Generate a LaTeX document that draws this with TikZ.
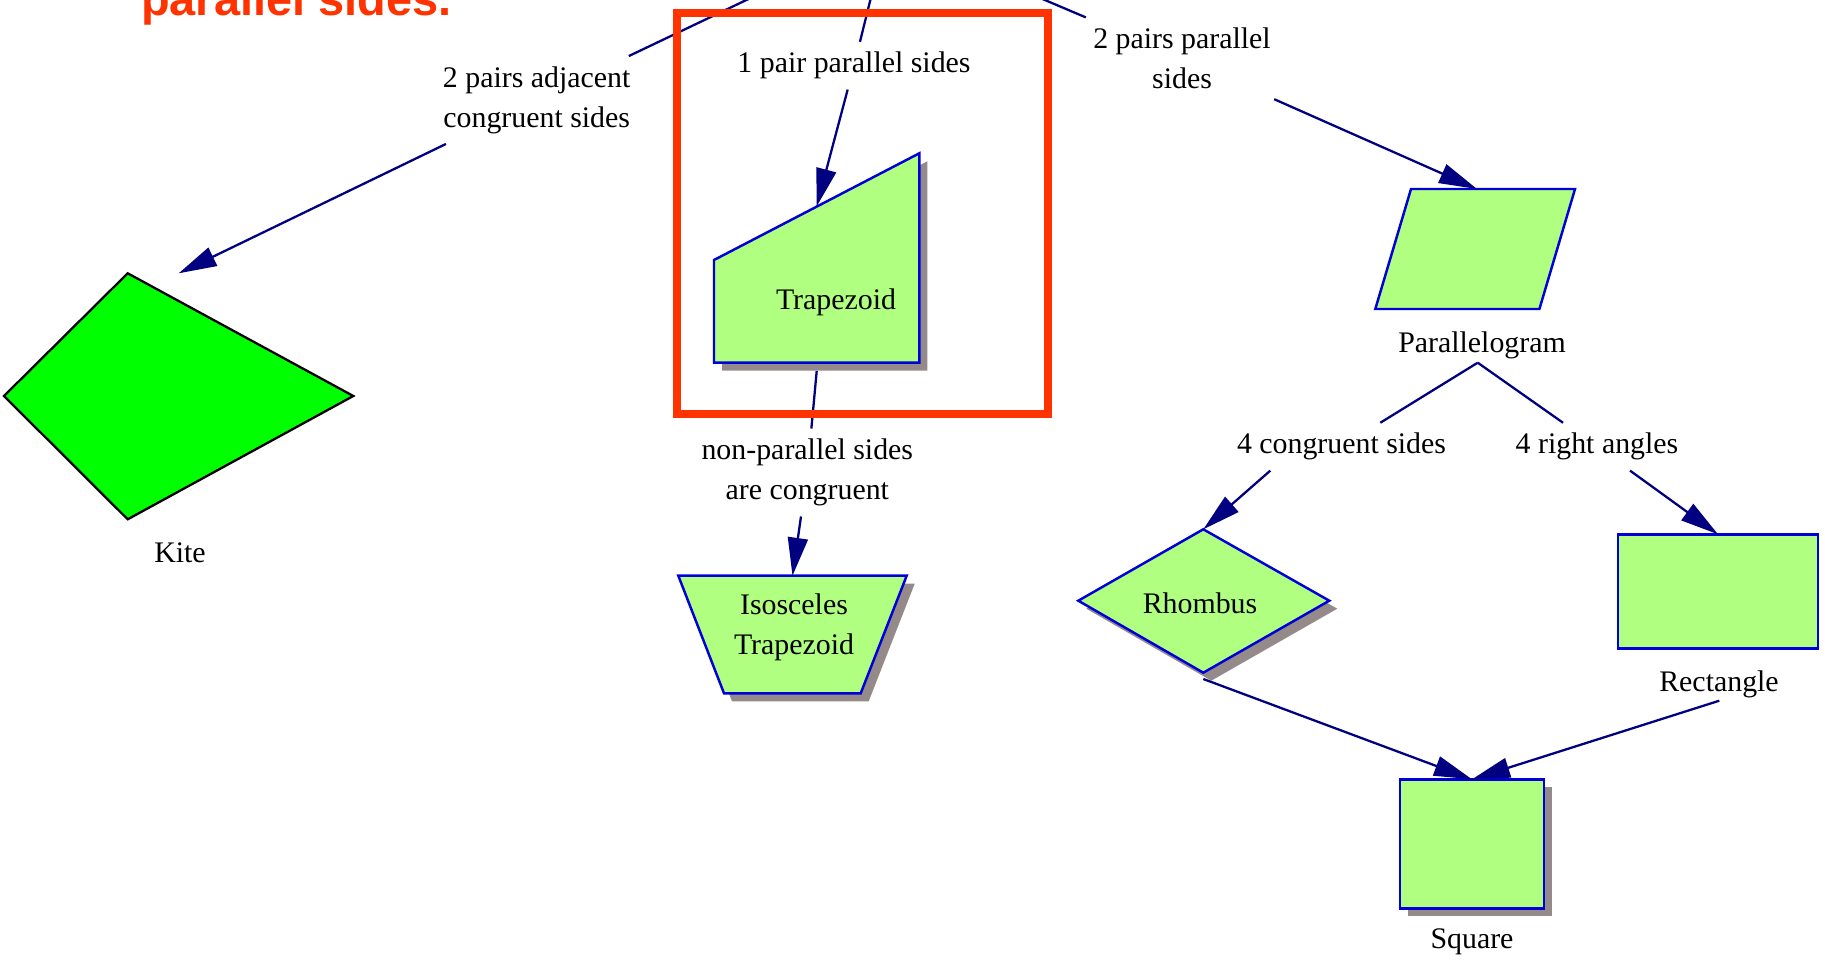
\documentclass[tikz,border=0pt]{standalone}
\usepackage{fontspec}
\setmainfont{Liberation Serif}
\newfontfamily\headfont{Liberation Sans}
\usepackage{xcolor}
\definecolor{navyline}{rgb}{0,0,.5}
\definecolor{shapeblue}{rgb}{0,0,.86}
\definecolor{shapefill}{rgb}{.69,1,.5}
\definecolor{kitefill}{rgb}{0,1,0}
\definecolor{shadowgray}{rgb}{.58,.54,.54}
\definecolor{boxred}{rgb}{1,.2,0}
\usepackage{tikz}
\usetikzlibrary{arrows.meta, calc}
\tikzset{
    font={\fontsize{17pt}{22.8pt}\selectfont},
    link/.style={draw=navyline, line width=1.3pt},
    linkarrow/.style={link, -{Triangle[length=0.76cm, width=0.4cm]}},
    lbl/.style={inner sep=0.2cm, align=center},
    shapeline/.style={draw=shapeblue, fill=shapefill, line width=1.4pt},
    shadow/.style={fill=shadowgray, shift={(8,8)}},
    }

\begin{document}
\begin{tikzpicture}
    [x=0.02cm, y=-0.02cm]
    \useasboundingbox (0,0) rectangle (1825,966);
    \clip (0,0) rectangle (1825,966);
    % kite
    \filldraw[fill=kitefill, draw=black, line width=1.3pt]
        (127.7,273.3) -- (353.3,396) -- (127.7,519.3) -- (4,396) -- cycle;
    \node (kite) at (180,553) {Kite};
    % trapezoid
    \fill[shadow] (714,260) -- (919.3,153.3) -- (919.3,362.7) -- (714,362.7) -- cycle;
    \filldraw[shapeline] (714,260) -- (919.3,153.3) -- (919.3,362.7) -- (714,362.7) -- cycle;
    \node (trap) at (836,302) {Trapezoid};
    % isosceles trapezoid
    \fill[shadow] (678.3,575.7) -- (906.7,575.7) -- (860.7,693.3) -- (724,693.3) -- cycle;
    \filldraw[shapeline] (678.3,575.7) -- (906.7,575.7) -- (860.7,693.3) -- (724,693.3) -- cycle;
    \node[align=center] (iso) at (794,627.5) {Isosceles\\Trapezoid};
    % parallelogram
    \filldraw[shapeline] (1411,189) -- (1575,189) -- (1539.4,309) -- (1375.3,309) -- cycle;
    \node (para) at (1482,345) {Parallelogram};
    % rhombus
    \fill[shadow] (1203.3,529.3) -- (1329.3,600.7) -- (1203.3,672.7) -- (1078.3,600.7) -- cycle;
    \filldraw[shapeline] (1203.3,529.3) -- (1329.3,600.7) -- (1203.3,672.7) -- (1078.3,600.7) -- cycle;
    \node (rho) at (1200,603.3) {Rhombus};
    % rectangle
    \filldraw[shapeline] (1618,534.3) rectangle (1818,648.3);
    \node (rect) at (1719,684) {Rectangle};
    % square
    \fill[shadow] (1400,779.3) rectangle (1544,908.3);
    \filldraw[shapeline] (1400,779.3) rectangle (1544,908.3);
    \node (sq) at (1472,942) {Square};
    % text
    \node[lbl] (lblAdj) at (536.7,100) {2 pairs adjacent\\congruent sides};
    \node[lbl] (lblOne) at (854,65.7) {1 pair parallel sides};
    \node[lbl] (lblTwo) at (1182,58.3) {2 pairs parallel\\sides};
    \node[lbl] (lblNon) at (807.3,472.5) {non-parallel sides\\are congruent};
    \node[lbl] (lblCong) at (1341.5,446.7) {4 congruent sides};
    \node[lbl] (lblRight) at (1597,446.7) {4 right angles};
    \node[anchor=base west, text=boxred,
        font={\headfont\fontsize{26.7pt}{32pt}\selectfont\bfseries}]
        (title) at (135,16) {parallel sides.};
    % edge ends
    \coordinate (quad) at (887,-67);
    \coordinate (kiteT) at (178.7,273.3);
    \coordinate (trapT) at (816.6,206.5);
    \coordinate (trapB) at (816.7,371);
    \coordinate (isoT) at (792.5,575.7);
    \coordinate (paraT) at (1477,189);
    \coordinate (paraB) at (1477.7,362.7);
    \coordinate (rhoT) at (1203.3,529.3);
    \coordinate (rhoB) at (1203.3,679);
    \coordinate (rectT) at (1718,534.3);
    \coordinate (rectB) at (1719.3,700.7);
    \coordinate (sqT) at (1472,779.3);
    % edges
    \draw[link] (quad) -- (lblAdj);
    \draw[linkarrow] (lblAdj) -- (kiteT);
    \draw[link] (quad) -- (lblOne);
    \draw[linkarrow] (lblOne) -- (trapT);
    \draw[link] (quad) -- (lblTwo);
    \draw[linkarrow] (lblTwo) -- (paraT);
    \draw[link] (trapB) -- (lblNon);
    \draw[linkarrow] (lblNon) -- (isoT);
    \draw[link] (paraB) -- (lblCong);
    \draw[linkarrow] ($(lblCong.south)!0.62!(lblCong.south west)$) -- (rhoT);
    \draw[link] (paraB) -- (lblRight);
    \draw[linkarrow] (lblRight) -- (rectT);
    \draw[linkarrow] (rhoB) -- (sqT);
    \draw[linkarrow] (rectB) -- (sqT);
    % highlight
    \draw[boxred, line width=0.16cm] (677,13) rectangle (1048,414);
    \end{tikzpicture}
\end{document}
